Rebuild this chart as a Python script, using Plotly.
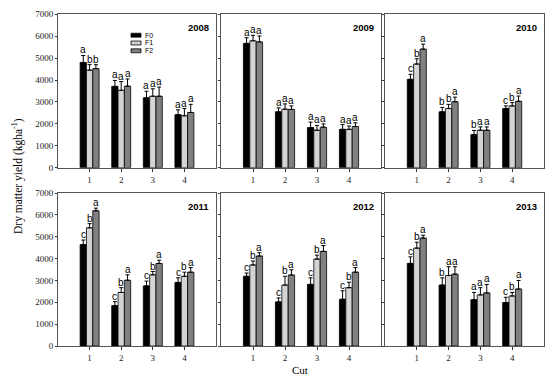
import plotly.graph_objects as go

W, H = 550, 390

cuts = [1, 2, 3, 4]
cut_labels = ["1", "2", "3", "4"]
years = ["2008", "2009", "2010", "2011", "2012", "2013"]
treatments = ["F0", "F1", "F2"]
colors = ["#000000", "#d4d4d4", "#808080"]

# values [year][treatment] -> 4 cuts
y2008_F0 = [4800, 3710, 3190, 2420]; e2008_F0 = [320, 270, 300, 220]; l2008_F0 = ["a", "a", "a", "a"]
y2008_F1 = [4450, 3530, 3260, 2370]; e2008_F1 = [250, 400, 340, 330]; l2008_F1 = ["b", "a", "a", "a"]
y2008_F2 = [4520, 3720, 3260, 2520]; e2008_F2 = [180, 330, 420, 370]; l2008_F2 = ["b", "a", "a", "a"]

y2009_F0 = [5670, 2550, 1830, 1750]; e2009_F0 = [260, 180, 250, 220]; l2009_F0 = ["a", "a", "a", "a"]
y2009_F1 = [5790, 2670, 1710, 1750]; e2009_F1 = [250, 240, 220, 150]; l2009_F1 = ["a", "a", "a", "a"]
y2009_F2 = [5740, 2660, 1850, 1880]; e2009_F2 = [270, 160, 150, 170]; l2009_F2 = ["a", "a", "a", "a"]

y2010_F0 = [4030, 2550, 1510, 2700]; e2010_F0 = [230, 200, 190, 120]; l2010_F0 = ["c", "b", "b", "c"]
y2010_F1 = [4730, 2700, 1710, 2820]; e2010_F1 = [240, 190, 150, 150]; l2010_F1 = ["b", "b", "a", "b"]
y2010_F2 = [5410, 3010, 1710, 3030]; e2010_F2 = [230, 210, 150, 240]; l2010_F2 = ["a", "a", "a", "a"]

y2011_F0 = [4640, 1850, 2750, 2910]; e2011_F0 = [210, 180, 220, 210]; l2011_F0 = ["c", "c", "c", "c"]
y2011_F1 = [5410, 2450, 3260, 3190]; e2011_F1 = [190, 220, 150, 190]; l2011_F1 = ["b", "b", "b", "b"]
y2011_F2 = [6190, 3010, 3780, 3380]; e2011_F2 = [120, 250, 150, 210]; l2011_F2 = ["a", "a", "a", "a"]

y2012_F0 = [3190, 2020, 2820, 2140]; e2012_F0 = [150, 180, 300, 390]; l2012_F0 = ["c", "c", "c", "c"]
y2012_F1 = [3710, 2790, 3980, 2670]; e2012_F1 = [180, 400, 180, 250]; l2012_F1 = ["b", "b", "b", "b"]
y2012_F2 = [4120, 3250, 4330, 3380]; e2012_F2 = [150, 240, 270, 210]; l2012_F2 = ["a", "a", "a", "a"]

y2013_F0 = [3780, 2790, 2120, 1990]; e2013_F0 = [300, 330, 330, 240]; l2013_F0 = ["c", "b", "a", "c"]
y2013_F1 = [4480, 3230, 2340, 2290]; e2013_F1 = [270, 400, 330, 160]; l2013_F1 = ["b", "a", "a", "b"]
y2013_F2 = [4940, 3290, 2430, 2610]; e2013_F2 = [130, 340, 390, 390]; l2013_F2 = ["a", "a", "a", "a"]

data = {
    "2008": [(y2008_F0, e2008_F0, l2008_F0), (y2008_F1, e2008_F1, l2008_F1), (y2008_F2, e2008_F2, l2008_F2)],
    "2009": [(y2009_F0, e2009_F0, l2009_F0), (y2009_F1, e2009_F1, l2009_F1), (y2009_F2, e2009_F2, l2009_F2)],
    "2010": [(y2010_F0, e2010_F0, l2010_F0), (y2010_F1, e2010_F1, l2010_F1), (y2010_F2, e2010_F2, l2010_F2)],
    "2011": [(y2011_F0, e2011_F0, l2011_F0), (y2011_F1, e2011_F1, l2011_F1), (y2011_F2, e2011_F2, l2011_F2)],
    "2012": [(y2012_F0, e2012_F0, l2012_F0), (y2012_F1, e2012_F1, l2012_F1), (y2012_F2, e2012_F2, l2012_F2)],
    "2013": [(y2013_F0, e2013_F0, l2013_F0), (y2013_F1, e2013_F1, l2013_F1), (y2013_F2, e2013_F2, l2013_F2)],
}

# layout in pixels
col_px = [(58, 216), (221, 381), (385, 544)]
row_px = [(9.5, 167), (193, 350)]

bargap = 0.4
bar_w = (1 - bargap) / 3

fig = go.Figure()
annotations = []
shapes = []
frame_col = "#555555"
tick_font = dict(family="Liberation Serif, Times New Roman, serif", size=9, color="#222")

for i, yr in enumerate(years):
    r, c = divmod(i, 3)
    idx = i + 1
    xa = "x" if idx == 1 else f"x{idx}"
    ya = "y" if idx == 1 else f"y{idx}"
    xk = "xaxis" if idx == 1 else f"xaxis{idx}"
    yk = "yaxis" if idx == 1 else f"yaxis{idx}"
    x0, x1 = col_px[c]
    t0, t1 = row_px[r]
    for j, (vals, errs, lets) in enumerate(data[yr]):
        fig.add_trace(go.Bar(
            x=cuts, y=vals, name=treatments[j], xaxis=xa, yaxis=ya,
            marker=dict(color=colors[j], line=dict(color="#000", width=0.8)),
            error_y=dict(type="data", symmetric=False, array=errs, arrayminus=[0] * 4,
                         color="#000", thickness=1, width=2),
            showlegend=False, offsetgroup=str(j),
        ))
        off = (j - 1) * bar_w
        for k in range(4):
            annotations.append(dict(
                x=cuts[k] + off, y=vals[k] + errs[k], xref=xa, yref=ya,
                text=lets[k], showarrow=False, yanchor="bottom", yshift=-2,
                font=dict(family="Liberation Sans, Arial, sans-serif", size=10, color="#000"),
            ))
    fig.update_layout({
        xk: dict(domain=[x0 / W, x1 / W], range=[0, 5], anchor=ya,
                 tickvals=cuts, ticktext=cut_labels, ticks="outside", ticklen=3,
                 tickcolor="#333", showline=True, linecolor=frame_col, linewidth=1,
                 mirror=True, showgrid=False, zeroline=False, tickfont=tick_font),
        yk: dict(domain=[1 - t1 / H, 1 - t0 / H], range=[0, 7000], anchor=xa,
                 tickvals=list(range(0, 7001, 1000)), ticks="outside", ticklen=2,
                 tickcolor="#333", showline=True, linecolor=frame_col, linewidth=1,
                 mirror=True, showgrid=False, zeroline=False, tickfont=tick_font,
                 showticklabels=(c == 0)),
    })
    annotations.append(dict(
        x=0.97, y=0.96, xref=f"{xa} domain", yref=f"{ya} domain",
        text=f"<b>{yr}</b>", showarrow=False, xanchor="right", yanchor="top",
        font=dict(family="Liberation Sans, Arial, sans-serif", size=9.5, color="#000"),
    ))

# manual legend in first panel
leg_y = [31, 39, 47]
for j, tname in enumerate(treatments):
    yc = leg_y[j]
    shapes.append(dict(type="rect", xref="paper", yref="paper",
                       x0=131 / W, x1=141 / W, y0=1 - (yc + 2) / H, y1=1 - (yc - 2) / H,
                       fillcolor=colors[j], line=dict(color="#000", width=0.8)))
    annotations.append(dict(x=143 / W, y=1 - yc / H, xref="paper", yref="paper",
                            text=tname, showarrow=False, xanchor="left", yanchor="middle",
                            font=dict(family="Liberation Sans, Arial, sans-serif", size=7, color="#000")))

annotations.append(dict(x=8 / W, y=1 - 176 / H, xref="paper", yref="paper",
                        text="Dry matter yield (kgha<sup>-1</sup>)", textangle=-90, showarrow=False,
                        font=dict(family="Liberation Serif, Times New Roman, serif", size=11.5, color="#000")))
annotations.append(dict(x=300 / W, y=1 - 383 / H, xref="paper", yref="paper",
                        text="Cut", showarrow=False,
                        font=dict(family="Liberation Serif, Times New Roman, serif", size=11, color="#000")))

fig.update_layout(
    width=W, height=H, autosize=False,
    margin=dict(l=0, r=0, t=0, b=0),
    barmode="group", bargap=bargap, bargroupgap=0,
    plot_bgcolor="white", paper_bgcolor="white",
    annotations=annotations, shapes=shapes,
)

fig.write_html("out.html", config={"displayModeBar": False},
               post_script="document.body.style.margin='0';document.body.style.overflow='hidden';")
